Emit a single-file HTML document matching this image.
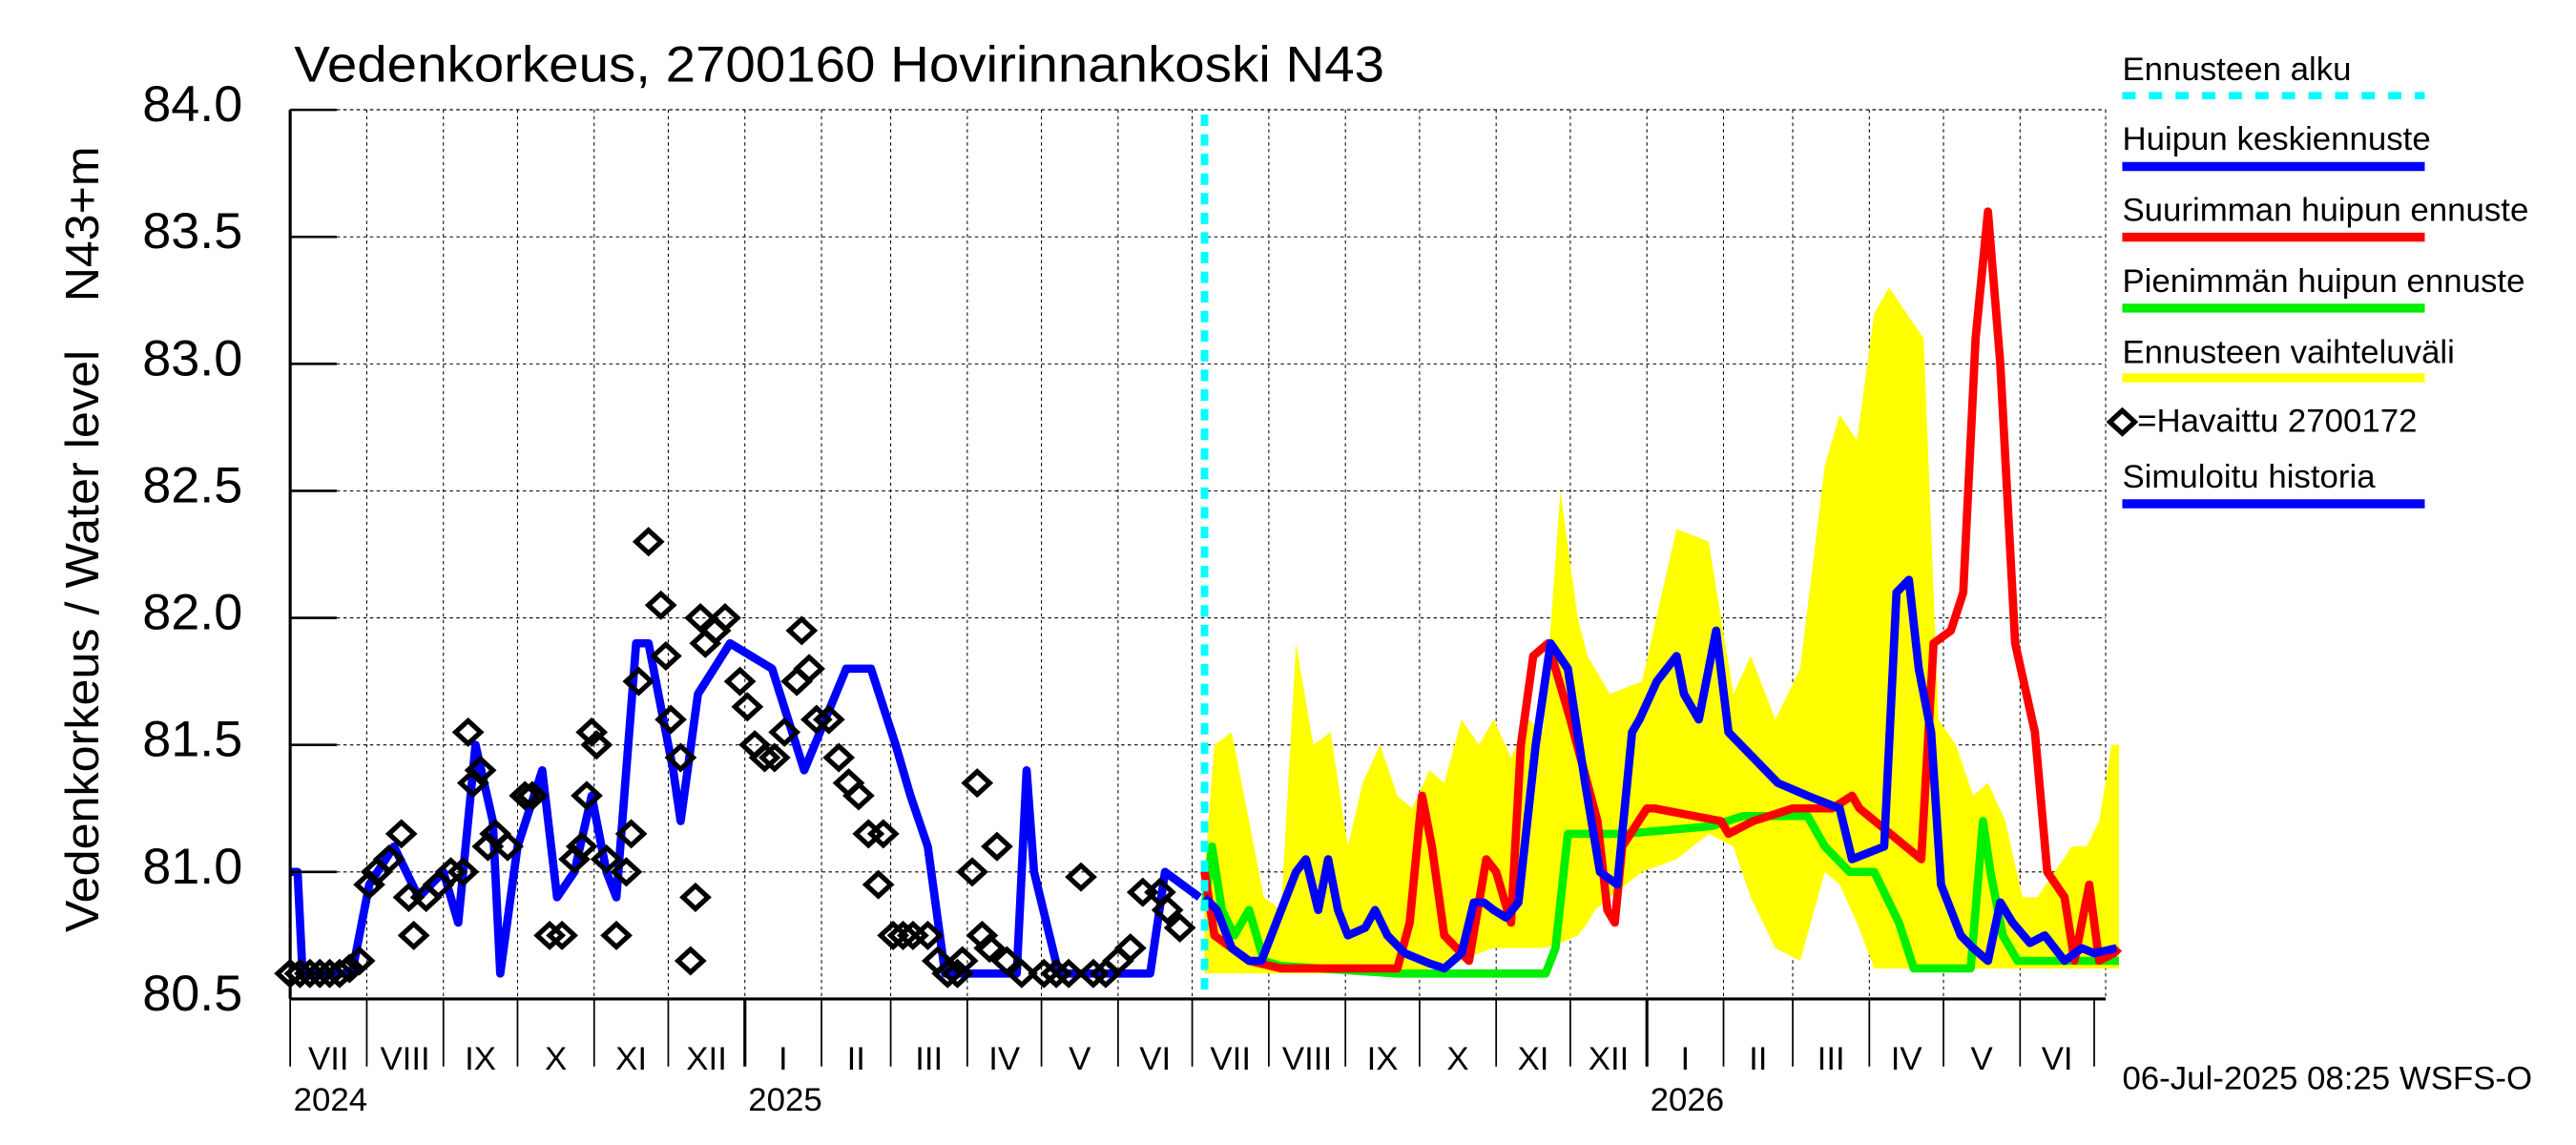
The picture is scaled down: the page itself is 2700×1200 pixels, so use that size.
<!DOCTYPE html>
<html><head><meta charset="utf-8"><style>
html,body{margin:0;padding:0;background:#fff}
svg{display:block}
text{font-family:"Liberation Sans",sans-serif}
</style></head><body>
<svg id="chart" width="2700" height="1200" viewBox="0 0 1550 700" preserveAspectRatio="none" xmlns="http://www.w3.org/2000/svg">
<rect x="0" y="0" width="1550" height="700" fill="#fff"/>
<g id="grid"></g>
<g id="band"></g>
<g id="lines"></g>
<g id="obs"></g>
<g id="axes"></g>
<text x="177" y="50" font-size="31" textLength="656" lengthAdjust="spacingAndGlyphs">Vedenkorkeus, 2700160 Hovirinnankoski N43</text>
<text transform="translate(59,392) rotate(-90)" text-anchor="middle" font-size="28" textLength="356" lengthAdjust="spacingAndGlyphs">Vedenkorkeus / Water level</text>
<text transform="translate(59,137) rotate(-90)" text-anchor="middle" font-size="28" textLength="95" lengthAdjust="spacingAndGlyphs">N43+m</text>
<text x="1277" y="666" font-size="20">06-Jul-2025 08:25 WSFS-O</text>
<g id="legend"></g>
</svg>
<script>
// ---- data (days since 2024-07-01, values in N43+m) ----
const yTicks = [80.5, 81.0, 81.5, 82.0, 82.5, 83.0, 83.5, 84.0];
const monthLabels = ["VII","VIII","IX","X","XI","XII","I","II","III","IV","V","VI","VII","VIII","IX","X","XI","XII","I","II","III","IV","V","VI"];
const yearLabels = ["2024","2025","2026"];
const forecastStartDay = 370;
const simDays = [0,3,5,25,32,42,52,62,68,75,82,85,92,102,108,115,122,128,132,140,145,155,158,165,178,195,208,225,235,245,251,258,265,294,298,301,311,348,354,368];
const simVals = [81.0,81.0,80.6,80.6,80.95,81.1,80.9,81.0,80.8,81.5,81.2,80.6,81.1,81.4,80.9,81.0,81.3,81.0,80.9,81.9,81.9,81.4,81.2,81.7,81.9,81.8,81.4,81.8,81.8,81.5,81.3,81.1,80.6,80.6,81.4,81.0,80.6,80.6,81.0,80.9];
const obsDays = [0,4,8,12,16,20,24,28,32,35,40,45,48,50,55,60,65,70,72,74,77,80,83,88,95,98,105,110,115,118,120,122,124,128,132,136,138,141,145,150,152,154,158,162,164,166,168,172,176,182,185,188,192,196,200,205,207,210,213,218,222,226,230,234,238,240,244,248,252,258,262,266,270,272,276,278,280,283,286,290,296,305,310,315,320,325,330,335,340,345,352,355,360];
const obsVals = [80.6,80.6,80.6,80.6,80.6,80.6,80.62,80.65,80.95,81.0,81.05,81.15,80.9,80.75,80.9,80.95,81.0,81.0,81.55,81.35,81.4,81.1,81.15,81.1,81.3,81.3,80.75,80.75,81.05,81.1,81.3,81.55,81.5,81.05,80.75,81.0,81.15,81.75,82.3,82.05,81.85,81.6,81.45,80.65,80.9,82.0,81.9,81.95,82.0,81.75,81.65,81.5,81.45,81.45,81.55,81.75,81.95,81.8,81.6,81.6,81.45,81.35,81.3,81.15,80.95,81.15,80.75,80.75,80.75,80.75,80.65,80.6,80.6,80.65,81.0,81.35,80.75,80.7,81.1,80.65,80.6,80.6,80.6,80.6,80.98,80.6,80.6,80.65,80.7,80.92,80.92,80.85,80.78];
const maxDays = [370,374,388,401,448,453,458,462,467,477,484,488,494,498,503,509,518,529,533,536,539,549,552,579,582,592,608,624,632,635,660,665,672,677,682,687,692,698,706,711,718,722,728,732,738,740];
const maxVals = [81.0,80.75,80.65,80.62,80.62,80.8,81.3,81.1,80.75,80.65,81.05,81.0,80.8,81.5,81.85,81.9,81.6,81.2,80.85,80.8,81.1,81.25,81.25,81.2,81.15,81.2,81.25,81.25,81.3,81.25,81.05,81.9,81.95,82.1,83.1,83.6,83.0,81.9,81.55,81.0,80.9,80.65,80.95,80.65,80.68,80.7];
const minDays = [370,373,377,382,388,394,401,448,508,512,517,530,540,575,588,614,621,631,641,651,657,663,680,685,688,693,699,740];
const minVals = [80.85,81.1,80.85,80.75,80.85,80.65,80.63,80.6,80.6,80.7,81.15,81.15,81.15,81.18,81.22,81.22,81.1,81.0,81.0,80.8,80.62,80.62,80.62,81.2,81.0,80.75,80.65,80.65];
const meanDays = [370,375,381,388,393,399,407,411,416,420,424,428,435,439,444,451,461,467,474,479,483,487,492,497,504,510,517,524,530,537,543,546,553,561,564,570,577,582,592,602,614,627,632,645,650,655,659,664,668,676,681,687,692,697,704,710,718,725,730,739];
const meanVals = [80.9,80.85,80.7,80.65,80.65,80.8,81.0,81.05,80.85,81.05,80.85,80.75,80.78,80.85,80.75,80.68,80.64,80.62,80.68,80.88,80.88,80.85,80.82,80.88,81.5,81.9,81.8,81.35,81.0,80.95,81.55,81.6,81.75,81.85,81.7,81.6,81.95,81.55,81.45,81.35,81.3,81.25,81.05,81.1,82.1,82.15,81.8,81.55,80.95,80.75,80.7,80.65,80.88,80.8,80.72,80.75,80.65,80.7,80.68,80.7];
const bandDays = [370,374,381,388,394,401,407,414,421,428,434,441,448,454,461,467,474,481,487,494,501,507,514,521,525,528,534,547,561,574,584,591,601,611,621,627,634,641,647,654,661,667,674,681,687,694,701,707,714,721,727,732,737,740];
const bandHigh = [81.0,81.5,81.55,81.2,80.9,80.85,81.9,81.5,81.55,81.1,81.35,81.5,81.3,81.25,81.4,81.35,81.6,81.5,81.6,81.45,81.6,81.55,82.5,82.0,81.85,81.8,81.7,81.75,82.35,82.3,81.7,81.85,81.6,81.8,82.6,82.8,82.7,83.2,83.3,83.2,83.1,81.6,81.5,81.3,81.35,81.2,80.9,80.9,81.0,81.1,81.1,81.2,81.5,81.5];
const bandLow = [80.6,80.6,80.6,80.6,80.6,80.6,80.6,80.6,80.6,80.6,80.6,80.6,80.6,80.6,80.62,80.62,80.65,80.68,80.7,80.7,80.7,80.7,80.72,80.75,80.8,80.85,80.9,81.0,81.05,81.15,81.1,80.9,80.7,80.65,81.0,80.95,80.8,80.62,80.62,80.62,80.62,80.62,80.62,80.62,80.62,80.62,80.62,80.62,80.62,80.62,80.62,80.62,80.62,80.62];

// ---- scales ----
const X0 = 174.6, X1 = 1267, PXD = 1.487, Y0 = 610.7, PXV = 155.3;
const xs = d => X0 + d * PXD;
const ys = v => Y0 - (v - 80.5) * PXV;
const NS = "http://www.w3.org/2000/svg";
function mk(tag, attrs, parent){const e=document.createElementNS(NS,tag);for(const k in attrs)e.setAttribute(k,attrs[k]);parent.appendChild(e);return e;}
const grid = document.getElementById('grid'), axes = document.getElementById('axes');
const monthStarts = [0,31,62,92,123,153,184,215,243,274,304,335,365,396,427,457,488,518,549,580,608,639,669,700,730];

yTicks.forEach(v => {
  const l = mk('line',{x1:X0,x2:X1,y1:ys(v),y2:ys(v),stroke:'#000','stroke-width':0.6,'stroke-dasharray':'2,2'},grid);
  
  
  const t = mk('line',{x1:X0,x2:X0+28,y1:ys(v),y2:ys(v),stroke:'#000','stroke-width':1.5},axes);
  
  
  const tx = mk('text',{x:146,y:ys(v)+7,'text-anchor':'end','font-size':31},axes);
  tx.textContent = v.toFixed(1);
  
  
});
monthStarts.forEach((d,i) => {
  const x = xs(d);
  if (i > 0 && i < monthStarts.length-1) {
    const g = mk('line',{x1:x,x2:x,y1:67,y2:Y0,stroke:'#000','stroke-width':0.6,'stroke-dasharray':'2,2'},grid);
    
    
  }
  const major = (d===184 || d===549);
  const t = mk('line',{x1:x,x2:x,y1:Y0,y2:652,stroke:'#000','stroke-width':major?1.8:1},axes);
  
  
  if (i < monthLabels.length) {
    const tx = mk('text',{x:xs((d+monthStarts[i+1])/2),y:654,'text-anchor':'middle','font-size':20},axes);
    tx.textContent = monthLabels[i];
    
    
  }
});
[[0,0],[184,1],[549,2]].forEach(([d,i]) => {
  const tx = mk('text',{x:xs(d)+2,y:679,'font-size':20},axes);
  tx.textContent = yearLabels[i];
  
  
});
const ax1 = mk('line',{x1:X0,x2:X0,y1:67,y2:Y0,stroke:'#000','stroke-width':1.8},axes);
 
const ax2 = mk('line',{x1:X0,x2:X1,y1:Y0,y2:Y0,stroke:'#000','stroke-width':1.8},axes);
 
const ax3 = mk('line',{x1:X0,x2:X1,y1:67,y2:67,stroke:'#000','stroke-width':0.6,'stroke-dasharray':'2,2'},grid);
 
const ax4 = mk('line',{x1:X1,x2:X1,y1:67,y2:Y0,stroke:'#000','stroke-width':0.6,'stroke-dasharray':'2,2'},grid);
 

let pts = bandDays.map((d,i)=>xs(d)+','+ys(bandHigh[i]));
for (let i=bandDays.length-1;i>=0;i--) pts.push(xs(bandDays[i])+','+ys(bandLow[i]));
const band = mk('polygon',{points:pts.join(' '),fill:'#ffff00'},document.getElementById('band'));



const lines = document.getElementById('lines');
function poly(days, vals, color, name){
  const p = mk('polyline',{points:days.map((d,i)=>xs(d)+','+ys(vals[i])).join(' '),fill:'none',stroke:color,'stroke-width':5,'stroke-linejoin':'round'},lines);
  
  
}
poly(simDays, simVals, '#0000ff', 'simulated-history-line');
poly(minDays, minVals, '#00ee00', 'min-peak-forecast-line');
poly(maxDays, maxVals, '#ff0000', 'max-peak-forecast-line');
poly(meanDays, meanVals, '#0000ff', 'mean-peak-forecast-line');
const fs = mk('line',{x1:xs(forecastStartDay),x2:xs(forecastStartDay),y1:70,y2:Y0,stroke:'#00ffff','stroke-width':4.5,'stroke-dasharray':'7,5'},lines);



const obs = document.getElementById('obs');
obsDays.forEach((d,i)=>{
  const x=xs(d), y=ys(obsVals[i]);
  const m = mk('polygon',{points:`${x},${y-7} ${x+7.5},${y} ${x},${y+7} ${x-7.5},${y}`,fill:'none',stroke:'#000','stroke-width':3},obs);
  
  
});

const lg = document.getElementById('legend');
const legendItems = [["Ennusteen alku",'#00ffff',49,58.5,true],["Huipun keskiennuste",'#0000ff',91.5,101.8],["Suurimman huipun ennuste",'#ff0000',135,145],["Pienimmän huipun ennuste",'#00ee00',178.6,188.4],["Ennusteen vaihteluväli",'#ffff00',222,231],["Simuloitu historia",'#0000ff',298,308]];
legendItems.forEach(([label,c,ty,ly,dash])=>{
  const t = mk('text',{x:1277,y:ty,'font-size':20},lg);
  t.textContent = label;
  
  
  const l = mk('line',{x1:1277,x2:1459,y1:ly,y2:ly,stroke:c,'stroke-width':dash?4.5:5.5,'stroke-dasharray':dash?'8,8':'none'},lg);
  
  
});
const ld = mk('polygon',{points:'1277,251 1284.5,258 1277,265 1269.5,258',fill:'none',stroke:'#000','stroke-width':3},lg);


const lt = mk('text',{x:1286,y:264,'font-size':20},lg);
lt.textContent = "=Havaittu 2700172";


</script>
</body></html>
